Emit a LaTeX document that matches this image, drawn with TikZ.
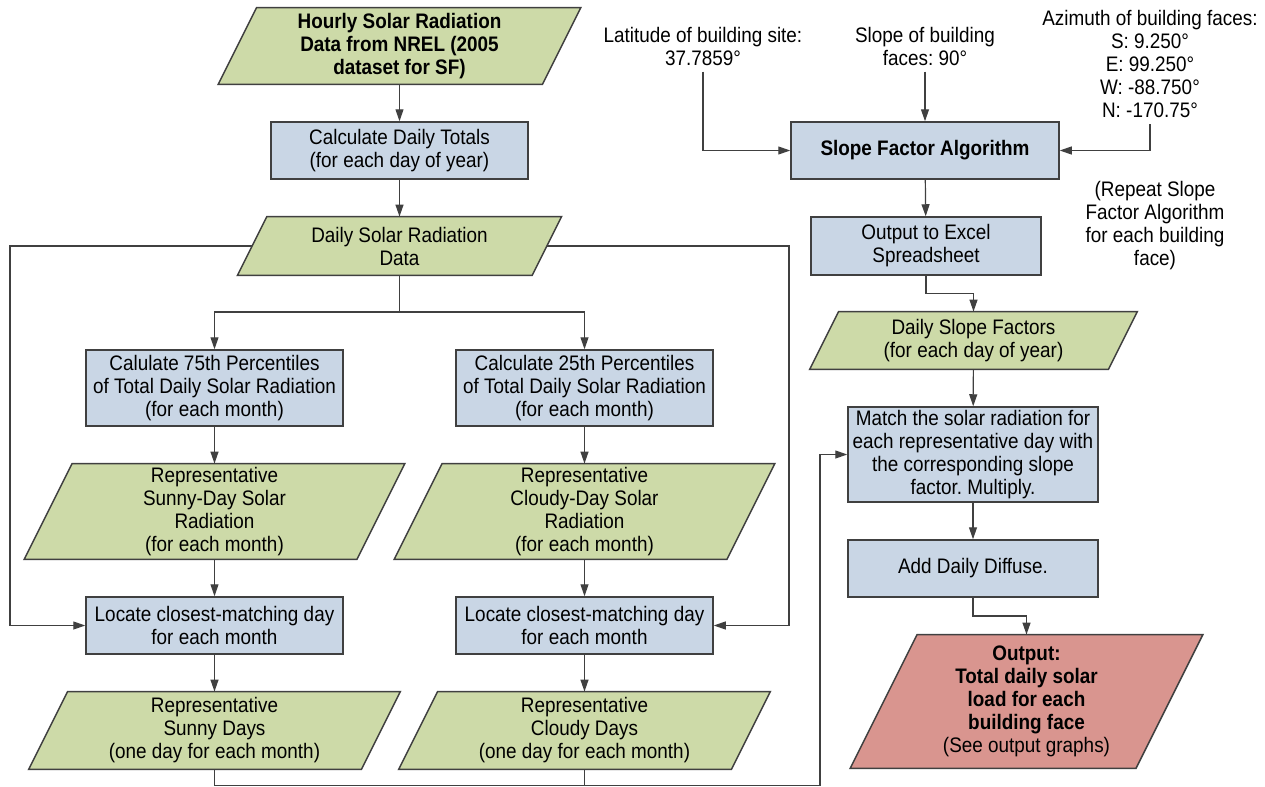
\documentclass[tikz,border=0pt]{standalone}
\usepackage{fontspec}
\setmainfont{Liberation Sans}[FakeStretch=0.9]
\usetikzlibrary{arrows.meta,calc,backgrounds}
\definecolor{gfill}{HTML}{CDDAA8}
\definecolor{bfill}{HTML}{C9D6E5}
\definecolor{rfill}{HTML}{D9958F}
\definecolor{edge}{HTML}{404040}
\frenchspacing
\tikzset{
  txt/.style={font=\fontsize{10.5pt}{11.5pt}\selectfont\frenchspacing, align=center, text=black},
  boldtxt/.style={font=\fontsize{10.5pt}{11.5pt}\selectfont\bfseries\frenchspacing, align=center, text=black},
  box/.style={draw=edge, line width=0.75pt, fill=bfill, inner sep=0pt},
  para/.style={inner sep=0pt},
  lbl/.style={txt, inner sep=3pt},
  arr/.style={draw=edge, line width=0.6pt, -{Triangle[length=6pt,width=4pt]}},
  ln/.style={draw=edge, line width=0.6pt},
  parashape/.style={draw=edge, line width=0.75pt},
}
\newcommand\drawpara[2]{%
  \path[parashape, fill=#2] let \p1=(#1.north west), \p2=(#1.south east),
    \n1={0.25*(\y1-\y2)} in
    (\x1+\n1,\y1) -- (\x2+\n1,\y1) -- (\x2-\n1,\y2) -- (\x1-\n1,\y2) -- cycle;}
\begin{document}
\begin{tikzpicture}[x=0.5pt,y=-0.5pt]
\useasboundingbox (0,0) rectangle (1265,787);

% left/middle column
\node[para, boldtxt, minimum width=161.75pt, minimum height=38pt] (hourly) at (399.5,46)
  {Hourly Solar Radiation\\Data from NREL (2005\\dataset for SF)};
\node[box, txt, minimum width=128.5pt, minimum height=28.5pt] (calc) at (399.5,150.5)
  {Calculate Daily Totals\\(for each day of year)};
\node[para, txt, minimum width=147pt, minimum height=29pt] (daily) at (399.5,246)
  {Daily Solar Radiation\\Data};
\node[box, txt, minimum width=128.5pt, minimum height=38pt] (p75) at (214.5,388)
  {Calulate 75th Percentiles\\of Total Daily Solar Radiation\\(for each month)};
\node[box, txt, minimum width=128.5pt, minimum height=38pt] (p25) at (584.5,388)
  {Calculate 25th Percentiles\\of Total Daily Solar Radiation\\(for each month)};
\node[para, txt, minimum width=166pt, minimum height=47.5pt] (sunnyday) at (214.5,511.5)
  {Representative\\Sunny-Day Solar\\Radiation\\(for each month)};
\node[para, txt, minimum width=166pt, minimum height=47.5pt] (cloudyday) at (584.5,511.5)
  {Representative\\Cloudy-Day Solar\\Radiation\\(for each month)};
\node[box, txt, minimum width=128.5pt, minimum height=28.5pt] (loc1) at (214.5,625.5)
  {Locate closest-matching day\\for each month};
\node[box, txt, minimum width=128.5pt, minimum height=28.5pt] (loc2) at (584.5,625.5)
  {Locate closest-matching day\\for each month};
\node[para, txt, minimum width=166pt, minimum height=38.5pt] (sunny) at (214.5,730.5)
  {Representative\\Sunny Days\\(one day for each month)};
\node[para, txt, minimum width=166pt, minimum height=38.5pt] (cloudy) at (584.5,730.5)
  {Representative\\Cloudy Days\\(one day for each month)};

% right column
\node[lbl] (lat) at (703,46) {Latitude of building site:\\37.7859°};
\node[lbl] (slopelbl) at (925,46) {Slope of building\\faces: 90°};
\node[lbl] (azi) at (1150,64) {Azimuth of building faces:\\S: 9.250°\\E: 99.250°\\W: -88.750°\\N: -170.75°};
\node[box, boldtxt, minimum width=134pt, minimum height=28.5pt] (slope) at (925,150.5)
  {Slope Factor Algorithm};
\node[box, txt, minimum width=115pt, minimum height=29pt] (excel) at (926,246)
  {Output to Excel\\Spreadsheet};
\node[lbl] (repeat) at (1155,226) {(Repeat Slope\\Factor Algorithm\\for each building\\face)};
\node[para, txt, minimum width=149pt, minimum height=28.5pt] (slopef) at (973.5,340.5)
  {Daily Slope Factors\\(for each day of year)};
\node[box, txt, minimum width=125pt, minimum height=47.5pt] (match) at (973,454.5)
  {Match the solar radiation for\\each representative day with\\the corresponding slope\\factor. Multiply.};
\node[box, txt, minimum width=125pt, minimum height=28.5pt] (diffuse) at (973,568.5)
  {Add Daily Diffuse.};
\node[para, txt, minimum width=142.5pt, minimum height=66.5pt] (output) at (1026.5,701.5)
  {\textbf{Output:}\\\textbf{Total daily solar}\\\textbf{load for each}\\\textbf{building face}\\(See output graphs)};

\begin{scope}[on background layer]
  \drawpara{hourly}{gfill}
  \drawpara{daily}{gfill}
  \drawpara{sunnyday}{gfill}
  \drawpara{cloudyday}{gfill}
  \drawpara{sunny}{gfill}
  \drawpara{cloudy}{gfill}
  \drawpara{slopef}{gfill}
  \drawpara{output}{rfill}
\end{scope}

% helper coordinates
\coordinate (split) at (399.5,312);
\coordinate (lleft) at (10,246);
\coordinate (lright) at (789,246);
\coordinate (bl) at (214.5,785.5);
\coordinate (br) at (820,785.5);
\coordinate (xjog) at (926,293.5);
\coordinate (djog) at (973,616);

% connectors
\draw[arr] (hourly) -- (calc);
\draw[arr] (calc) -- (daily);
\draw[ln] (daily.south) -- (split);
\draw[arr] (split) -| (p75.north);
\draw[arr] (split) -| (p25.north);
\draw[arr] (daily.west) -- (lleft) |- (loc1.west);
\draw[arr] (daily.east) -- (lright) |- (loc2.east);
\draw[arr] (p75) -- (sunnyday);
\draw[arr] (p25) -- (cloudyday);
\draw[arr] (sunnyday) -- (loc1);
\draw[arr] (cloudyday) -- (loc2);
\draw[arr] (loc1) -- (sunny);
\draw[arr] (loc2) -- (cloudy);
\draw[arr] (sunny.south) -- (bl) -- (br) |- (match.west);
\draw[ln] (cloudy.south) -- (cloudy.south |- bl);

\draw[arr] (lat.south) |- (slope.west);
\draw[arr] (slopelbl) -- (slope);
\draw[arr] (azi.south) |- (slope.east);
\draw[arr] (slope) -- (excel);
\draw[arr] (excel.south) -- (xjog) -| (slopef.north);
\draw[arr] (slopef) -- (match);
\draw[arr] (match) -- (diffuse);
\draw[arr] (diffuse.south) -- (djog) -| (output.north);
\end{tikzpicture}
\end{document}
